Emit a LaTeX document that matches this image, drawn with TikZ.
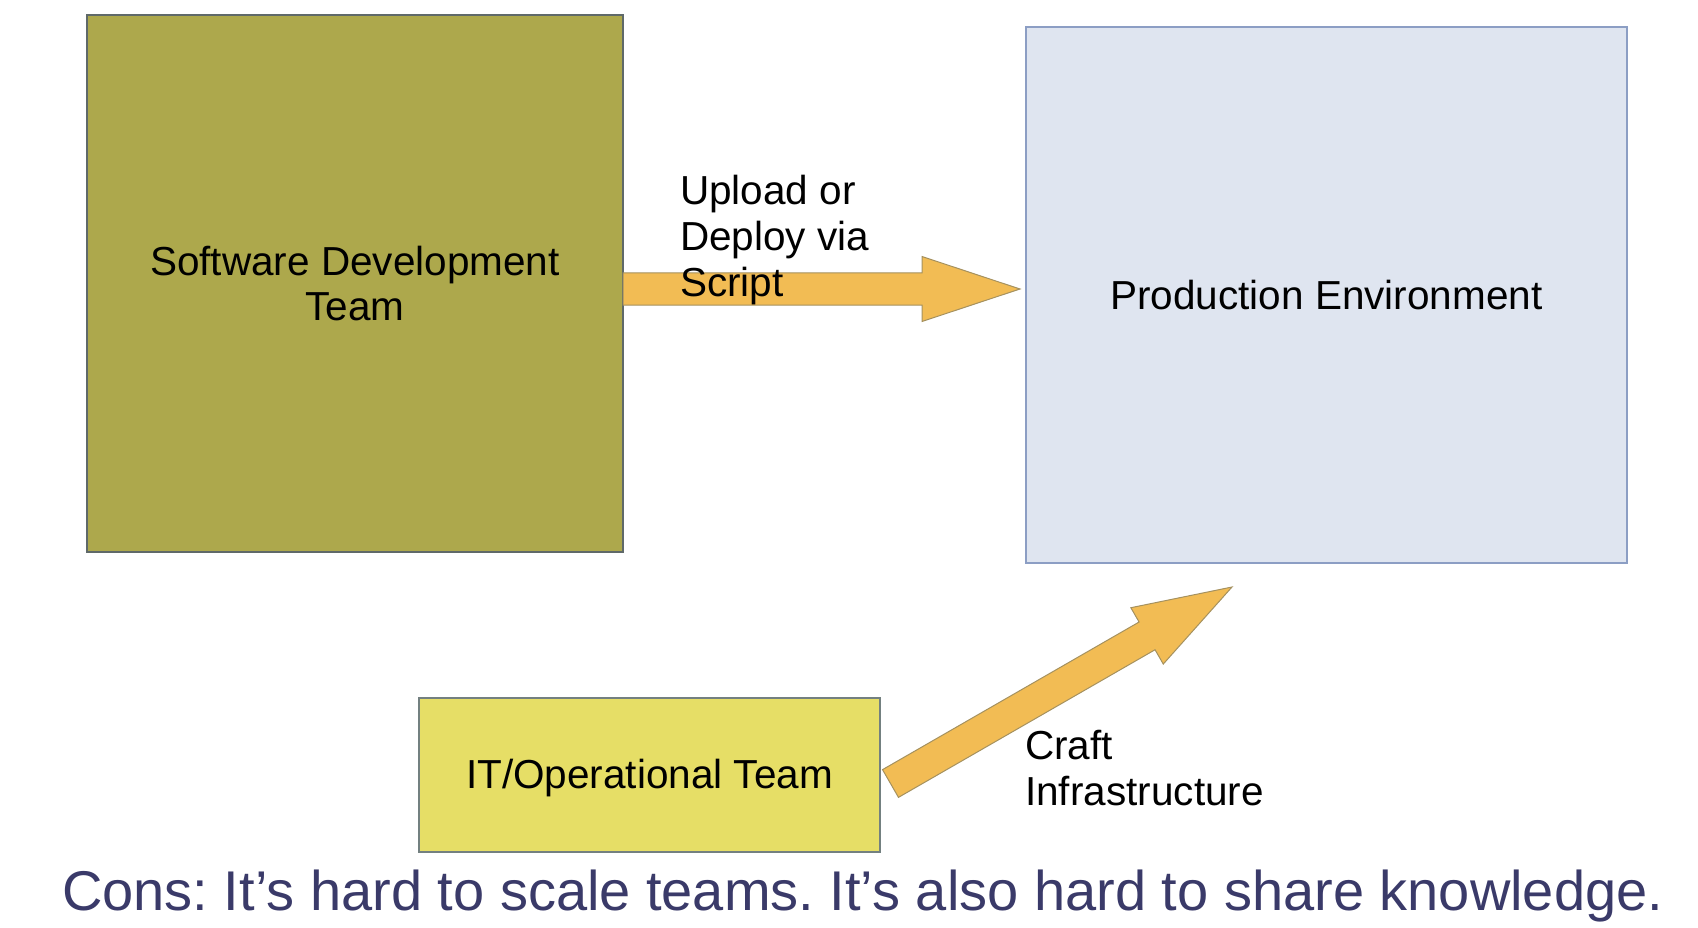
\documentclass[tikz,border=0pt]{standalone}
\usepackage{fontspec}
\setmainfont{Liberation Sans}
\usetikzlibrary{calc}
\frenchspacing
\definecolor{devolive}{RGB}{173,168,76}
\definecolor{devedge}{RGB}{95,105,105}
\definecolor{prodblue}{RGB}{223,229,240}
\definecolor{prodedge}{RGB}{140,158,196}
\definecolor{opsyellow}{RGB}{230,222,102}
\definecolor{opsedge}{RGB}{115,128,128}
\definecolor{arroworange}{RGB}{242,188,84}
\definecolor{arrowedge}{RGB}{165,145,95}
\definecolor{consblue}{RGB}{58,58,105}
% fat block arrow from #1 to #2
\newcommand{\fatarrow}[2]{%
  \coordinate (fa-h) at ($(#2)!98pt!(#1)$);
  \draw[bigarrow] ($(#1)!16pt!90:(#2)$) -- ($(fa-h)!16pt!90:(#2)$)
    -- ($(fa-h)!32.5pt!90:(#2)$) -- (#2) -- ($(fa-h)!32.5pt!-90:(#2)$)
    -- ($(fa-h)!16pt!-90:(#2)$) -- ($(#1)!16pt!-90:(#2)$) -- cycle;}
\begin{document}
\begin{tikzpicture}[x=1pt,y=-1pt,
    box/.style={draw,line width=1.5pt,inner sep=0,outer sep=0,align=center,
      font=\fontsize{40.5}{45}\selectfont},
    bigarrow/.style={fill=arroworange,draw=arrowedge,line width=1pt},
    notetext/.style={font=\fontsize{40.5}{46}\selectfont,align=left,
      anchor=north west,inner sep=0}]
  \useasboundingbox (0,0) rectangle (1698,928);
  \node[box,fill=devolive,draw=devedge,minimum width=536,minimum height=537]
    (dev) at (355,283.5) {Software Development\\Team};
  \node[box,fill=prodblue,draw=prodedge,minimum width=601,minimum height=536]
    (prod) at (1326.5,295) {Production Environment};
  \node[box,fill=opsyellow,draw=opsedge,minimum width=461,minimum height=154,
    text depth=3pt] (ops) at (649.5,775) {IT/Operational Team};
  \coordinate (deploy-from) at ([yshift=-5.5pt]dev.east);
  \coordinate (deploy-to) at ([xshift=-6pt,yshift=6pt]prod.west);
  \coordinate (craft-from) at ([xshift=10.5pt,yshift=-8.5pt]ops.east);
  \coordinate (craft-to) at ([xshift=-94.5pt,yshift=-24pt]prod.south);
  \fatarrow{deploy-from}{deploy-to}
  \fatarrow{craft-from}{craft-to}
  \node[notetext] (deploy) at (680,175) {Upload or\\Deploy via\\Script};
  \node[notetext] (craft) at (1025,730) {Craft\\Infrastructure};
  \node[font=\fontsize{56}{60}\selectfont,text=consblue,anchor=base west,inner sep=0]
    (cons) at (62,910) {Cons: It’s hard to scale teams. It’s also hard to share knowledge.};
\end{tikzpicture}
\end{document}
